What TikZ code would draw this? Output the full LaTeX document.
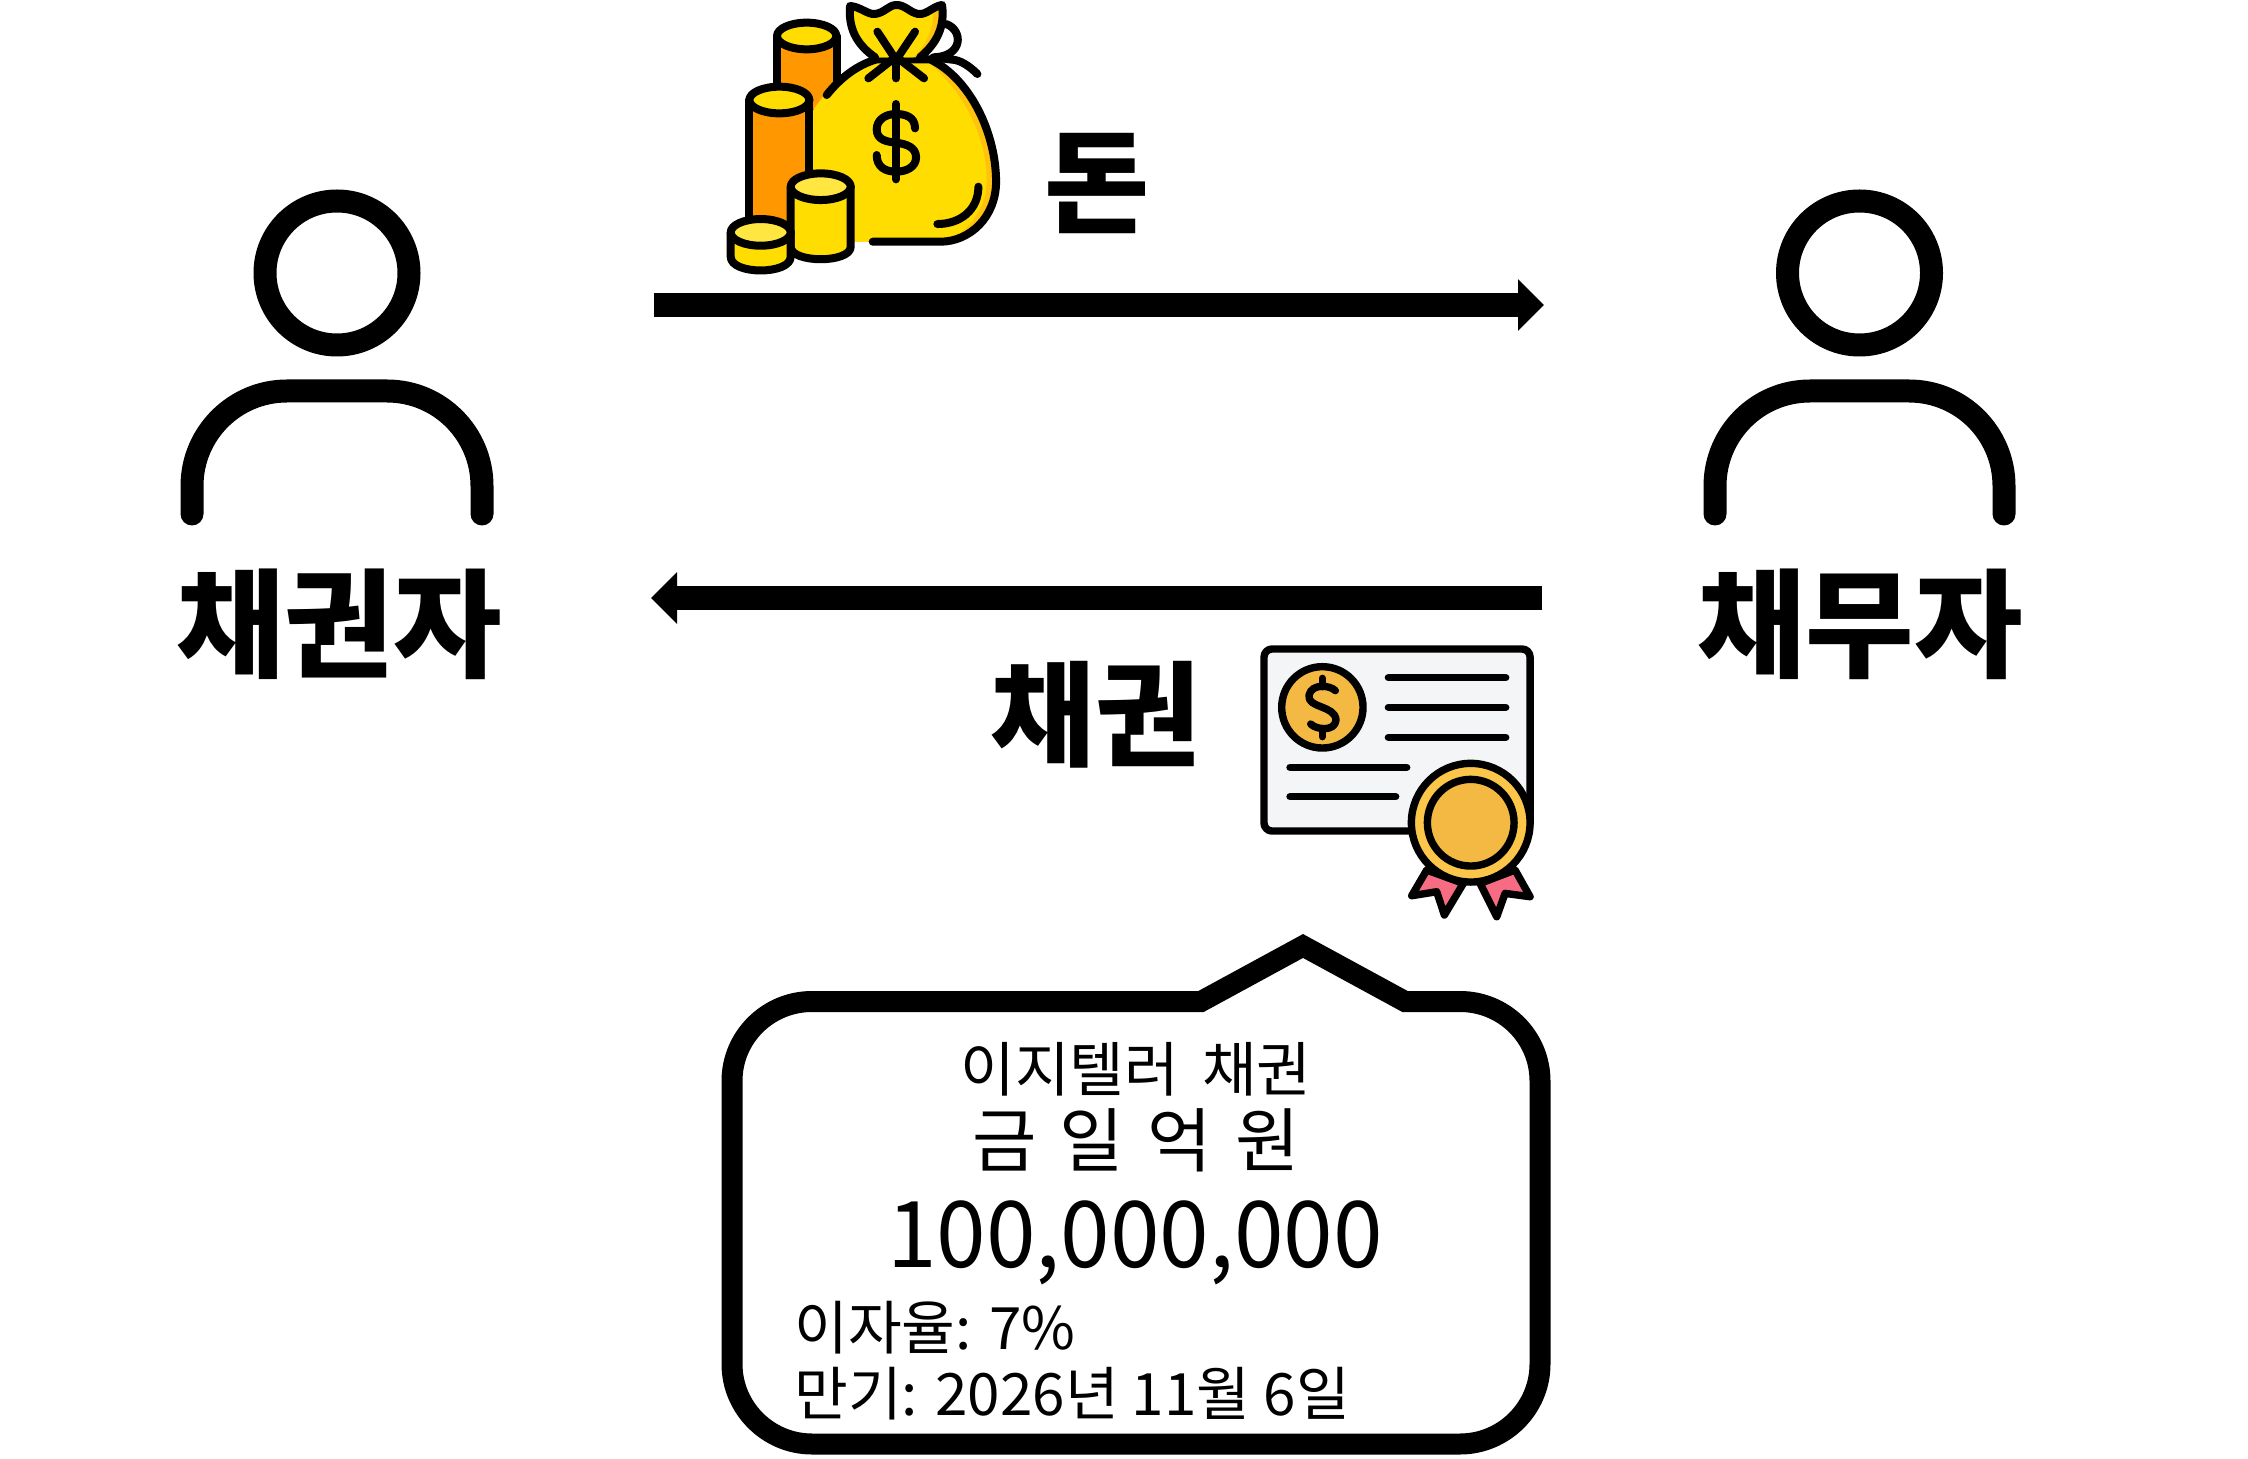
\documentclass[tikz,border=0pt]{standalone}
\usepackage{fontspec}
\usetikzlibrary{arrows.meta}
\newfontfamily\kr{Noto Sans CJK KR}
\newfontfamily\krnum[FakeStretch=0.97]{Noto Sans CJK KR}
\definecolor{coinY}{HTML}{FFDD00}
\definecolor{coinL}{HTML}{FFE640}
\definecolor{coinO}{HTML}{FF9800}
\definecolor{bagE}{HTML}{FFC20E}
\definecolor{paper}{HTML}{F3F5F7}
\definecolor{gold}{HTML}{F4B942}
\definecolor{goldL}{HTML}{FCC64A}
\definecolor{ribbon}{HTML}{F76C82}
\tikzset{
  x=0.5pt,y=-0.5pt,
  personline/.style={line width=11.5pt,line cap=round,line join=round},
  flow/.style={line width=12pt,-{Triangle[length=13pt,width=25pt]}},
  title/.style={font=\kr\bfseries\fontsize{57}{60}\selectfont,inner sep=0pt},
  bigtitle/.style={font=\kr\bfseries\fontsize{59}{62}\selectfont,inner sep=0pt},
  small/.style={font=\kr\fontsize{29.7}{32}\selectfont,inner sep=0pt},
  smalln/.style={font=\kr\fontsize{29.2}{32}\selectfont,inner sep=0pt},
  ink/.style={line width=4pt,line cap=round,line join=round},
  inkc/.style={line width=3.7pt,line cap=round,line join=round},
  callout/.style={line width=10.5pt,miter limit=10},
}
\begin{document}
\begin{tikzpicture}
\useasboundingbox (0,0) rectangle (2248,1459);
% persons
\draw[personline] (337,273) circle[radius=72];
\draw[personline,rounded corners=47.5pt] (192,514) -- (192,391) -- (482,391) -- (482,514);
\draw[personline] (1859.5,273) circle[radius=72];
\draw[personline,rounded corners=47.5pt] (1715,514) -- (1715,391) -- (2004,391) -- (2004,514);
\node[bigtitle] (creditor) at (339,624) {채권자};
\node[bigtitle] (debtor) at (1860,624) {채무자};
% arrows
\coordinate (topA) at (654,305);
\coordinate (topB) at (1544,305);
\coordinate (botA) at (1542,598);
\coordinate (botB) at (651,598);
\draw[flow] (topA) -- (topB);
\draw[flow] (botA) -- (botB);
\node[title] (money) at (1097,184) {돈};
\node[title] (bond) at (1095,715) {채권};
% money bag icon
\begin{scope}[shift={(700,0)},x=0.1667pt,y=-0.1667pt]
  % back coin
  \draw[ink,fill=coinO] (232,108) -- (232,340) -- (410,340) -- (410,108);
  \draw[ink,fill=coinY] (320,108) ellipse[x radius=89,y radius=40];
  % bag
  \fill[bagE] (320,345) -- (340,330) .. controls (400,240) and (470,190) .. (540,175) -- (690,175) .. controls (810,240) and (888,400) .. (888,545) .. controls (888,650) and (810,725) .. (720,725) -- (320,725) -- cycle;
  \fill[coinY] (320,345) -- (340,330) .. controls (400,240) and (470,190) .. (540,175) -- (670,175) .. controls (780,260) and (860,400) .. (860,545) .. controls (860,630) and (790,725) .. (700,725) -- (320,725) -- cycle;
  \draw[ink] (380,285) .. controls (420,235) and (470,195) .. (530,178) -- (690,178) .. controls (810,235) and (888,400) .. (888,545) .. controls (888,650) and (810,725) .. (720,725) -- (518,725);
  \draw[ink] (712,672) .. controls (780,672) and (835,630) .. (835,560);
  % loop
  \draw[ink] (738,72) .. controls (790,90) and (790,170) .. (700,172) -- (765,180) .. controls (790,185) and (815,205) .. (832,222);
  % neck
  \fill[bagE] (450,18) .. controls (480,20) and (505,45) .. (525,42) .. controls (555,38) and (565,15) .. (590,15) .. controls (615,15) and (630,38) .. (655,42) .. controls (680,45) and (700,18) .. (726,15) .. controls (735,80) and (710,130) .. (660,172) -- (525,172) .. controls (465,130) and (445,80) .. (450,18) -- cycle;
  \fill[coinY] (450,18) .. controls (480,20) and (505,45) .. (525,42) .. controls (555,38) and (565,15) .. (590,15) .. controls (615,15) and (630,38) .. (655,42) .. controls (670,42) and (690,35) .. (700,30) .. controls (700,90) and (680,130) .. (640,172) -- (525,172) .. controls (465,130) and (445,80) .. (450,18) -- cycle;
  \draw[ink] (525,172) .. controls (465,130) and (445,80) .. (450,18) .. controls (480,20) and (505,45) .. (525,42) .. controls (555,38) and (565,15) .. (590,15) .. controls (615,15) and (630,38) .. (655,42) .. controls (680,45) and (700,18) .. (726,15) .. controls (735,80) and (710,130) .. (660,172);
  \draw[ink] (532,95) -- (588,180) -- (645,95);
  \draw[ink] (505,235) -- (588,170) -- (672,235);
  \draw[ink] (588,170) -- (588,235);
  % dollar
  \draw[ink] (588,312) -- (588,538);
  \draw[ink] (645,385) .. controls (645,350) and (615,342) .. (588,342) .. controls (555,342) and (530,360) .. (530,388) .. controls (530,420) and (560,425) .. (588,428) .. controls (620,432) and (648,442) .. (648,472) .. controls (648,500) and (620,515) .. (588,515) .. controls (555,515) and (530,500) .. (530,465);
  % coin two
  \draw[ink,fill=coinO] (148,300) -- (148,680) -- (328,680) -- (328,300);
  \draw[ink,fill=coinY] (238,300) ellipse[x radius=90,y radius=40];
  % coin three
  \draw[ink,fill=coinY] (272,560) -- (272,740) .. controls (272,790) and (452,790) .. (452,740) -- (452,560);
  \draw[ink,fill=coinL] (362,560) ellipse[x radius=90,y radius=40];
  % coin four
  \draw[ink,fill=coinY] (92,697) -- (92,770) .. controls (92,825) and (272,825) .. (272,770) -- (272,697);
  \draw[ink,fill=coinL] (182,697) ellipse[x radius=90,y radius=40];
\end{scope}
% certificate icon
\begin{scope}[shift={(1240,630)},x=0.1667pt,y=-0.1667pt]
  \draw[inkc,fill=paper,rounded corners=4pt] (72,57) rectangle (870,603);
  \draw[inkc,fill=gold] (247,232) circle[radius=122];
  \draw[inkc] (286,182) .. controls (270,165) and (215,160) .. (207,195) .. controls (200,235) and (285,225) .. (288,270) .. controls (285,305) and (230,300) .. (212,282);
  \draw[inkc] (247,145) -- (247,170);
  \draw[inkc] (247,295) -- (247,320);
  \draw[inkc] (445,143) -- (797,143);
  \draw[inkc] (445,232) -- (797,232);
  \draw[inkc] (445,322) -- (797,322);
  \draw[inkc] (150,412) -- (500,412);
  \draw[inkc] (150,500) -- (467,500);
  \draw[inkc,fill=ribbon] (560,720) -- (515,797) -- (590,785) -- (613,855) -- (670,760) -- cycle;
  \draw[inkc,fill=ribbon] (825,720) -- (870,800) -- (795,790) -- (770,860) -- (720,760) -- cycle;
  \draw[inkc,fill=goldL] (692,578) circle[radius=178];
  \draw[inkc,fill=gold] (692,578) circle[radius=130];
\end{scope}
% callout
\draw[callout] (812,1001.5) -- (1201,1001.5) -- (1303,946) -- (1405,1001.5) -- (1460,1001.5)
  .. controls (1504,1001.5) and (1540,1037) .. (1540,1081) -- (1540,1364)
  .. controls (1540,1408) and (1504,1444) .. (1460,1444) -- (812,1444)
  .. controls (768,1444) and (732,1408) .. (732,1364) -- (732,1081)
  .. controls (732,1037) and (768,1001.5) .. (812,1001.5) -- cycle;
\node[small] (name) at (1136,1069) {이지텔러 \hspace{5pt}채권};
\node[font=\kr\fontsize{35}{38}\selectfont,inner sep=0pt] (korean) at (1136,1140) {금 \hspace{3.8pt}일 \hspace{3.8pt}억 \hspace{3.8pt}원};
\node[font=\krnum\fontsize{46}{50}\selectfont,inner sep=0pt] (amount) at (1135,1243) {100,000,000};
\node[smalln,anchor=west] (rate) at (794,1328) {이자율: 7\%};
\node[smalln,anchor=west] (due) at (794,1394) {만기: 2026년 11월 6일};
\end{tikzpicture}
\end{document}
